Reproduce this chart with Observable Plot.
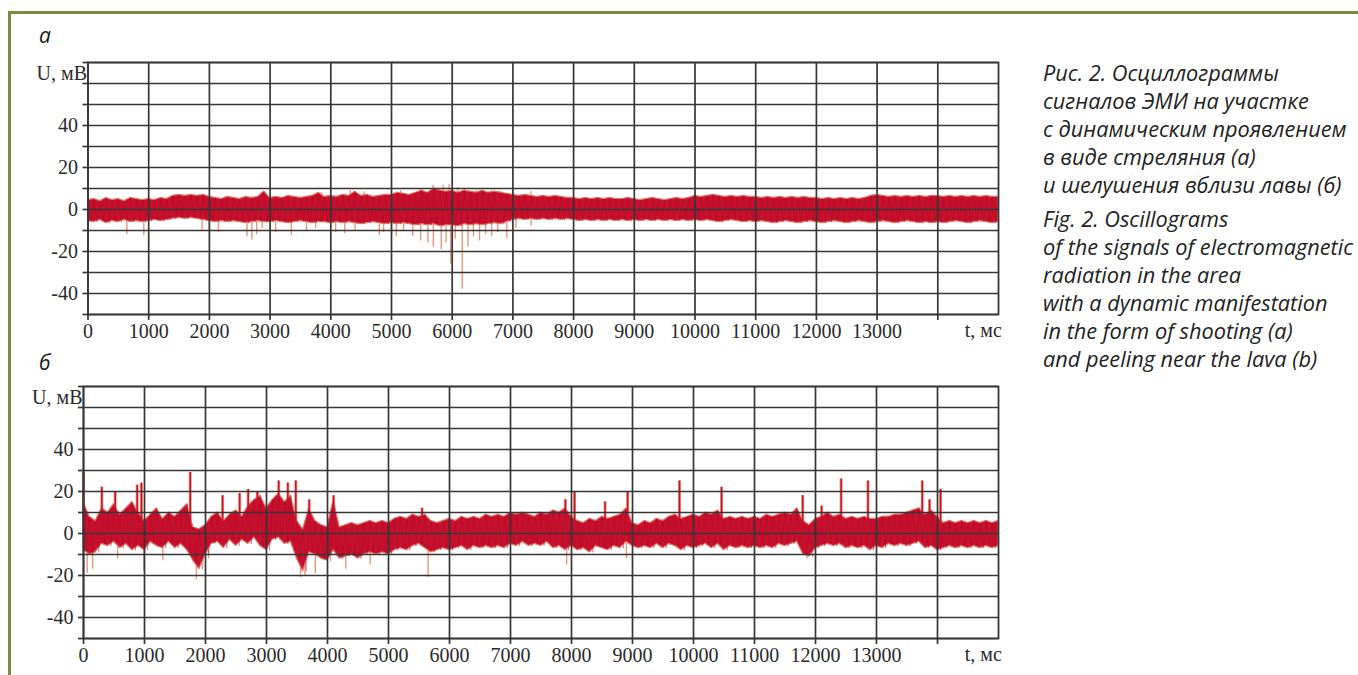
<!DOCTYPE html>
<html><head><meta charset="utf-8">
<script src="https://cdn.jsdelivr.net/npm/d3@7"></script>
<script src="https://cdn.jsdelivr.net/npm/@observablehq/plot@0.6"></script>
<style>
html,body{margin:0;padding:0;background:#fff;}
body{width:1358px;height:675px;position:relative;overflow:hidden;}
#frameTop{position:absolute;left:8px;top:11px;width:1350px;height:3px;background:#7b8c3d;}
#frameLeft{position:absolute;left:8px;top:11px;width:3px;height:664px;background:#7b8c3d;}
.plabel{position:absolute;left:39px;font-family:"Open Sans";font-style:italic;font-size:21px;line-height:22px;color:#1a1a1a;}
#caption{position:absolute;left:1043px;top:59px;font-family:"Open Sans";font-style:italic;color:#222;line-height:28px;white-space:nowrap;}
#caption .en{margin-top:6px;}
.panel{position:absolute;left:0;}
.panel svg text{-webkit-text-stroke:0.35px #2a2a2a;}
</style>
</head><body>
<div id="frameTop"></div><div id="frameLeft"></div>
<div class="plabel" style="top:24px">а</div>
<div class="plabel" style="top:351px">б</div>
<div id="panelA" class="panel" style="top:40px"></div>
<div id="panelB" class="panel" style="top:364px"></div>
<div id="caption">
<div class="ru">
<div>Рис. 2. Осциллограммы</div>
<div>сигналов ЭМИ на участке</div>
<div>с динамическим проявлением</div>
<div>в виде стреляния (а)</div>
<div>и шелушения вблизи лавы (б)</div>
</div>
<div class="en">
<div>Fig. 2. Oscillograms</div>
<div>of the signals of electromagnetic</div>
<div>radiation in the area</div>
<div>with a dynamic manifestation</div>
<div>in the form of shooting (a)</div>
<div>and peeling near the lava (b)</div>
</div>
</div>
<script>
// ---- data ----
const xTicks = [0,1000,2000,3000,4000,5000,6000,7000,8000,9000,10000,11000,12000,13000,14000];
const xLabels = ["0","1000","2000","3000","4000","5000","6000","7000","8000","9000","10000","11000","12000","13000",""];
const yTicks = [-50,-40,-30,-20,-10,0,10,20,30,40,50,60,70];
const yLabels = ["","-40","","-20","","0","","20","","40","","",""];
const xName = "t, мс";
const yName = "U, мВ";
const tStep = 100; // envelope sampled every 100 ms, 0..15000

// panel а: envelope of the dense signal band
const aHi = [
 4.5,5,4,5.5,4.5,5,4,5.5,5,4.5,
 5,4.5,5.5,5,6.5,7,6.5,7,6.5,7,
 6,5.5,5,6,5.5,5,6,5.5,6,8.5,
 5.5,6,5.5,6.5,6,5.5,6,6.5,8,6,
 6.5,6,7,6.5,8.5,6.5,7,6,6.5,7,
 7,8,7.5,7,8,9,8,10,9,8.5,
 9,8,9,8.5,8,9,8,8.5,8,7.5,
 7,6.5,7,6.5,6,6.5,6,6.5,6,5.5,
 5.5,5,5.5,5,5.5,5,5.5,5,5,5.5,
 5,4.5,5,5.5,5,4.5,5,5.5,5,5.5,
 6.5,6,6.5,7,6.5,6,6.5,6,6.5,6,
 6,5.5,6,5.5,6,5.5,6,5.5,6,5.5,
 5.5,5,5.5,5,5.5,5,5.5,5,5.5,6.5,
 7,6.5,6,6.5,6,6.5,6,6.5,6,6.5,
 6.5,6,6.5,6,6.5,6,6.5,6,6.5,6,6];
const aLo = [
 -5.5,-6,-5,-6.5,-5.5,-6,-5,-6,-5.5,-6,
 -5.5,-5,-5.5,-5,-4.5,-4,-4.5,-4,-4.5,-5,
 -5.5,-6,-5.5,-6,-5.5,-6,-6.5,-6,-5.5,-6,
 -6,-5.5,-6,-6.5,-6,-5.5,-6,-6.5,-6,-6,
 -6.5,-6,-6.5,-6,-6.5,-7,-6.5,-6,-6.5,-7,
 -6.5,-7,-6.5,-7,-7.5,-7,-7.5,-7,-8,-7.5,
 -7.5,-8,-7,-7.5,-7,-7.5,-7,-6.5,-7,-6,
 -5,-4.5,-5,-4.5,-5,-4.5,-5,-4.5,-5,-4.5,
 -5,-5.5,-5,-5.5,-5,-5.5,-5,-5.5,-5,-5.5,
 -5,-5.5,-5,-5.5,-5,-5.5,-5,-5.5,-5,-5.5,
 -5,-5.5,-5,-5.5,-6,-5.5,-5,-5.5,-6,-5.5,
 -6,-5.5,-6,-6.5,-6,-5.5,-6,-6.5,-6,-5.5,
 -6,-6.5,-6,-5.5,-6,-6.5,-6,-5.5,-6,-6.5,
 -6,-5.5,-6,-6.5,-6,-5.5,-6,-6.5,-6,-6.5,
 -6,-6.5,-6,-5.5,-6,-6.5,-6,-5.5,-6,-6.5,-6];
// panel а: isolated spikes
const aDownT = [640,920,1880,2000,2150,2620,2700,2780,2870,3090,3350,3600,3750,4080,4230,4400,4800,4870,5000,5080,5200,5350,5480,5600,5690,5820,5900,5975,6050,6165,6260,6350,6450,6550,6650,6750,6900,7050,7300];
const aDownV = [-12,-12.5,-10,-10.5,-11,-13,-14.5,-12,-9,-11,-12.5,-10,-9,-11,-11.5,-10,-12.5,-11,-12,-13,-10,-13,-15,-16,-18,-19,-16,-26,-14,-38,-18,-13,-15,-12,-13,-11,-14,-9,-8];
const aUpT = [2920,3850,4320,4550,5150,5480,5685,5850,5950,6095,6200,6400,6650,6800,7000,7300,10000];
const aUpV = [8.5,8,9,8.5,9,10,11.5,11.5,12,10.5,10,9,9,8.5,9,8.5,7.5];

// panel б: envelope
const bHi = [
 15,8,6,12,10,14,9,12,15,10,
 6,9,12,7,10,8,11,14,3,2,
 4,8,10,6,9,11,8,13,16,18,
 12,16,19,15,18,6,2,12,6,4,
 3,16,3,4,5,4,5,6,5,6,
 5,7,8,7,9,8,9,6,5,6,
 7,6,8,7,8,7,9,8,9,8,
 10,9,10,9,8,10,9,11,10,12,
 8,6,5,7,6,8,7,8,9,12,
 5,4,6,5,7,6,8,9,7,8,
 9,8,10,9,11,7,8,7,8,7,
 8,7,9,8,9,10,9,12,6,4,
 7,8,10,8,9,7,8,7,8,7,
 7,8,8,9,9,10,11,12,9,11,
 8,5,6,5,6,5,6,5,6,5,6];
const bLo = [
 -8,-10,-9,-5,-6,-4,-7,-5,-8,-6,
 -8,-4,-6,-7,-4,-7,-5,-8,-13,-17,
 -10,-5,-4,-7,-3,-6,-3,-5,-2,-6,
 -8,-3,-2,-5,-4,-12,-18,-9,-10,-12,
 -13,-8,-12,-11,-10,-12,-10,-9,-10,-9,
 -10,-8,-7,-8,-6,-5,-7,-9,-8,-7,
 -8,-7,-6,-8,-6,-7,-6,-7,-6,-7,
 -5,-6,-4,-6,-5,-6,-4,-7,-6,-8,
 -6,-8,-7,-9,-6,-7,-8,-6,-7,-4,
 -6,-7,-6,-7,-5,-7,-5,-6,-8,-6,
 -7,-6,-5,-7,-5,-8,-6,-7,-6,-7,
 -6,-7,-6,-7,-5,-6,-5,-4,-10,-11,
 -7,-6,-5,-6,-5,-7,-6,-7,-6,-8,
 -6,-7,-5,-6,-5,-6,-5,-4,-7,-6,
 -8,-7,-6,-7,-6,-7,-6,-7,-6,-7,-6];
const bUpT = [0,300,520,880,950,1750,2280,2560,2700,2850,3200,3350,3480,3700,4100,5550,7900,8050,8550,8920,9770,10460,11790,12100,12420,12860,13750,13870,14050];
const bUpV = [29,22,20,23,24,29,18,19,21,20,25,24,25,16,18,12,16,20,15,20,25,22,18,13,26,25,25,16,21];
const bDownT = [60,150,560,990,1300,1850,2050,3560,3630,3800,4300,4700,5650,7920,8900,11860];
const bDownV = [-19,-17,-12,-18,-13,-22,-12,-21,-20,-19,-17,-15,-21,-15,-12,-12];

// ---- drawing ----
const DARK = "#c8102e", LIGHT = "#e9967a", GRID = "#363636";

function panel(hi, lo, upT, upV, downT, downV, marginLeft, upDark) {
  const band = hi.map((h, i) => ({t: i * tStep, hi: h, lo: lo[i]}));
  // the same envelope points traced as a swing hi -> lo -> hi, giving the oscillation texture
  const swing = band.flatMap(d => [{t: d.t, v: d.hi}, {t: d.t + tStep / 2, v: d.lo}]);
  const ups = upT.map((t, i) => ({t, v: upV[i]}));
  const downs = downT.map((t, i) => ({t, v: downV[i]}));
  const labelOf = (arr, lab) => d => lab[arr.indexOf(d)];
  return Plot.plot({
    width: 1010, height: 310,
    marginTop: 22, marginBottom: 36, marginLeft, marginRight: 12,
    x: {domain: [0, 15000], axis: null},
    y: {domain: [-50, 70], axis: null},
    style: {fontFamily: "Liberation Serif", fontSize: "20px", color: "#2a2a2a", background: "transparent"},
    marks: [
      Plot.ruleX(downs, {x: "t", y1: 0, y2: "v", stroke: LIGHT, strokeWidth: 1.4}),
      upDark
        ? Plot.ruleX(ups, {x: "t", y1: 0, y2: "v", stroke: LIGHT, strokeWidth: 3})
        : Plot.ruleX(ups, {x: "t", y1: 0, y2: "v", stroke: LIGHT, strokeWidth: 1.4}),
      Plot.areaY(band, {x: "t", y1: "lo", y2: "hi", fill: DARK, stroke: "#e07866", strokeWidth: 1.2, curve: "linear"}),
      Plot.lineY(swing, {x: "t", y: "v", stroke: "#9c0a20", strokeWidth: 0.6, strokeOpacity: 0.55, clip: "frame"}),
      upDark ? Plot.ruleX(ups, {x: "t", y1: 0, y2: "v", stroke: DARK, strokeWidth: 1.5}) : null,
      Plot.gridX({ticks: xTicks, stroke: GRID, strokeOpacity: 1, strokeWidth: 1.7}),
      Plot.gridY({ticks: yTicks, stroke: GRID, strokeOpacity: 1, strokeWidth: 1.7}),
      Plot.frame({stroke: GRID, strokeWidth: 1.8}),
      Plot.axisX({ticks: xTicks, label: null, tickSize: 6, tickPadding: 3, strokeWidth: 1.7, stroke: GRID,
                  tickFormat: labelOf(xTicks, xLabels)}),
      Plot.axisY({ticks: yTicks, label: null, tickSize: 5, tickPadding: 5, strokeWidth: 1.7, stroke: GRID,
                  tickFormat: labelOf(yTicks, yLabels)}),
      Plot.text([yName], {frameAnchor: "top-left", textAnchor: "end", lineAnchor: "middle", dx: -1, dy: 11, fill: "#2a2a2a"}),
      Plot.text([xName], {x: () => 14750, frameAnchor: "bottom", textAnchor: "middle", lineAnchor: "middle", dy: 16, fill: "#2a2a2a"})
    ]
  });
}

document.getElementById("panelA").append(panel(aHi, aLo, aUpT, aUpV, aDownT, aDownV, 87.5, false));
document.getElementById("panelB").append(panel(bHi, bLo, bUpT, bUpV, bDownT, bDownV, 83, true));

// fit caption font so the longest line spans like the reference
const ctx = document.createElement("canvas").getContext("2d");
ctx.font = 'italic 100px "Open Sans"';
const w = ctx.measureText("of the signals of electromagnetic").width;
document.getElementById("caption").style.fontSize = (100 * 310 / w).toFixed(2) + "px";
</script>
</body></html>
